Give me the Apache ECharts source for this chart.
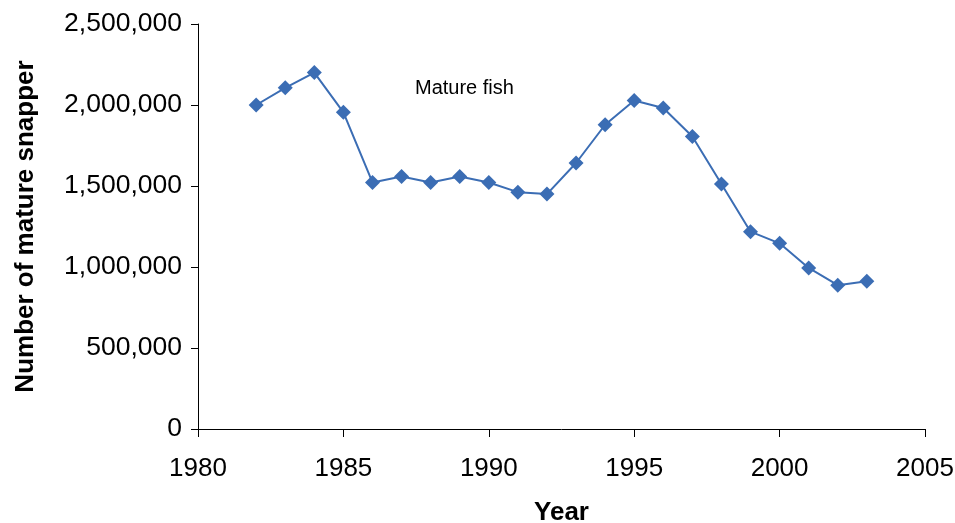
<!DOCTYPE html>
<html>
<head>
<meta charset="utf-8">
<script src="https://cdn.jsdelivr.net/npm/echarts@6/dist/echarts.min.js"></script>
<style>
html,body{margin:0;padding:0;background:#fff;}
#chart{width:955px;height:523px;}
</style>
</head>
<body>
<div id="chart"></div>
<script>
const years = [1982,1983,1984,1985,1986,1987,1988,1989,1990,1991,1992,1993,1994,1995,1996,1997,1998,1999,2000,2001,2002,2003];
const matureFish = [2000000,2106000,2200000,1955000,1522000,1558000,1522000,1558000,1522000,1462000,1450000,1642000,1878000,2028000,1982000,1806000,1512000,1218000,1146000,994000,888000,912000];
const seriesName = "Mature fish";
const xTitle = "Year";
const yTitle = "Number of mature snapper";

const chart = echarts.init(document.getElementById('chart'));
const font = 'Liberation Sans, Arial, sans-serif';
chart.setOption({
  animation: false,
  grid: {left: 198, right: 30, top: 24, bottom: 94, containLabel: false, outerBoundsMode: 'none'},
  xAxis: {
    type: 'value', min: 1980, max: 2005, interval: 5,
    name: xTitle, nameLocation: 'middle', nameGap: 71,
    nameTextStyle: {fontFamily: font, fontWeight: 'bold', fontSize: 26, color: '#000'},
    axisLine: {lineStyle: {color: '#000', width: 1}},
    axisTick: {show: true, inside: false, length: 8, lineStyle: {color: '#000'}},
    axisLabel: {fontFamily: font, fontSize: 26, color: '#000', margin: 27,
      formatter: v => String(v)},
    splitLine: {show: false}
  },
  yAxis: {
    type: 'value', min: 0, max: 2500000, interval: 500000,
    name: yTitle, nameLocation: 'middle', nameGap: 159,
    nameTextStyle: {fontFamily: font, fontWeight: 'bold', fontSize: 26, color: '#000'},
    axisLine: {show: true, lineStyle: {color: '#000', width: 1}},
    axisTick: {show: true, inside: false, length: 7, lineStyle: {color: '#000'}},
    axisLabel: {fontFamily: font, fontSize: 26.5, color: '#000', margin: 16,
      formatter: v => v.toLocaleString('en-US')},
    splitLine: {show: false}
  },
  graphic: [{
    type: 'text', left: 415, top: 78,
    style: {text: seriesName, fontFamily: font, fontSize: 20, fill: '#000'}
  }],
  series: [{
    type: 'line', name: seriesName,
    data: years.map((y, i) => [y, matureFish[i]]),
    symbol: 'diamond', symbolSize: 15,
    lineStyle: {color: '#3b6db4', width: 2},
    itemStyle: {color: '#3b6db4'}
  }]
});
</script>
</body>
</html>
